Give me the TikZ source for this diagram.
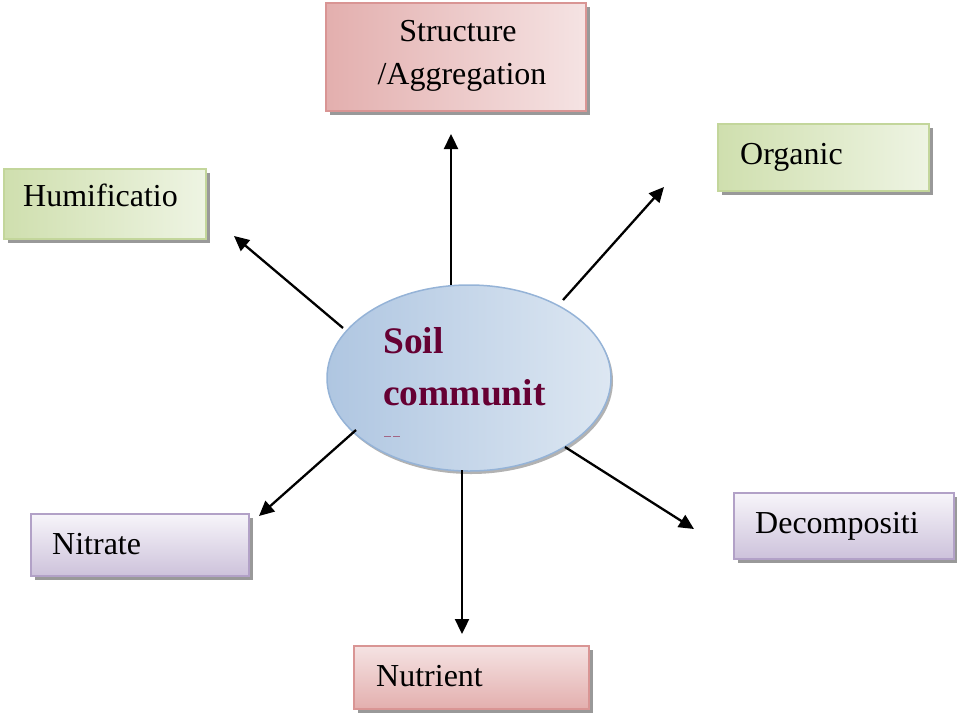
\documentclass[tikz,border=0pt]{standalone}
\usepackage{fontspec}
\setmainfont{Liberation Serif}
\usetikzlibrary{arrows.meta,shadows,shapes.geometric}
\definecolor{redB}{HTML}{D99594}
\definecolor{redD}{HTML}{E3AFAE}
\definecolor{redL}{HTML}{F5E3E3}
\definecolor{grnB}{HTML}{C3D69B}
\definecolor{grnD}{HTML}{CFDFAE}
\definecolor{grnL}{HTML}{EEF4E3}
\definecolor{purB}{HTML}{B2A1C7}
\definecolor{purD}{HTML}{CDC2DB}
\definecolor{purL}{HTML}{F7F5FA}
\definecolor{bluB}{HTML}{95B3D7}
\definecolor{bluD}{HTML}{AFC6E1}
\definecolor{bluL}{HTML}{DDE7F2}
\definecolor{maroon}{HTML}{660033}
\tikzset{
  boxshadow/.style={drop shadow={shadow xshift=4pt,shadow yshift=-4pt,fill=black!40,opacity=1}},
  redbox/.style={draw=redB,line width=1.5pt,boxshadow,shading=axis,shading angle=135,left color=redD,right color=redL,anchor=north west,inner sep=0pt},
  grnbox/.style={draw=grnB,line width=1.5pt,boxshadow,shading=axis,left color=grnD,right color=grnL,anchor=north west,inner sep=0pt},
  purbox/.style={draw=purB,line width=1.5pt,boxshadow,shading=axis,top color=purL,bottom color=purD,anchor=north west,inner sep=0pt},
  redbox2/.style={draw=redB,line width=1.5pt,boxshadow,shading=axis,top color=redL,bottom color=redD,anchor=north west,inner sep=0pt},
  lbl/.style={anchor=base west,inner sep=0pt,font=\fontsize{32}{38}\selectfont},
  arr/.style={-{Triangle[length=15pt,width=14pt]},line width=2.3pt,black},
}
\begin{document}
\begin{tikzpicture}[x=1pt,y=-1pt]
\useasboundingbox (0,0) rectangle (957,715);
% boxes
\node[redbox,minimum width=260pt,minimum height=108pt] (structbox) at (325,2) {};
\node[grnbox,minimum width=202pt,minimum height=70pt] (humbox) at (3,168) {};
\node[grnbox,minimum width=211pt,minimum height=67pt] (orgbox) at (717,123) {};
\node[purbox,minimum width=218pt,minimum height=62pt] (nitbox) at (30,513) {};
\node[purbox,minimum width=220pt,minimum height=66pt] (decbox) at (733,492) {};
\node[redbox2,minimum width=235pt,minimum height=63pt] (nutbox) at (353,645) {};
% ellipse
\node[ellipse,draw=bluB,line width=1.5pt,drop shadow={shadow xshift=2pt,shadow yshift=-3pt,fill=black!30,opacity=1},shading=axis,shading angle=135,left color=bluD,right color=bluL,minimum width=284pt,minimum height=186pt,inner sep=0pt] (soil) at (469,378) {};
% labels
\node[anchor=base,inner sep=0pt,font=\fontsize{32}{38}\selectfont] (t1a) at (458,41) {Structure};
\node[anchor=base,inner sep=0pt,font=\fontsize{32}{38}\selectfont] (t1b) at (462,84) {/Aggregation};
\node[lbl] (t2) at (23,206) {Humificatio};
\node[lbl] (t3) at (740,164) {Organic};
\node[lbl] (t4) at (52,554) {Nitrate};
\node[lbl] (t5) at (755,533) {Decompositi};
\node[lbl] (t6) at (376,686) {Nutrient};
\node[anchor=base west,inner sep=0pt,text=maroon,font=\fontsize{37.5}{44}\selectfont\bfseries] (s1) at (383,353) {Soil};
\node[anchor=base west,inner sep=0pt,text=maroon,font=\fontsize{37.5}{44}\selectfont\bfseries] (s2) at (383,405) {communit};
\coordinate (d1) at (384,436);
\coordinate (d2) at (391,436);
\coordinate (d3) at (393,436);
\coordinate (d4) at (400,436);
\draw[maroon!60,line width=0.8pt] (d1) -- (d2) (d3) -- (d4);
% arrow coordinates
\coordinate (a1s) at (451,285); \coordinate (a1e) at (451,134);
\coordinate (a2s) at (563,300); \coordinate (a2e) at (664,187);
\coordinate (a3s) at (343,328); \coordinate (a3e) at (234,236);
\coordinate (a4s) at (356,430); \coordinate (a4e) at (259,516);
\coordinate (a5s) at (462,470); \coordinate (a5e) at (462,634);
\coordinate (a6s) at (565,447); \coordinate (a6e) at (694,529);
\draw[arr] (a1s) -- (a1e);
\draw[arr] (a2s) -- (a2e);
\draw[arr] (a3s) -- (a3e);
\draw[arr] (a4s) -- (a4e);
\draw[arr] (a5s) -- (a5e);
\draw[arr] (a6s) -- (a6e);
\end{tikzpicture}
\end{document}
